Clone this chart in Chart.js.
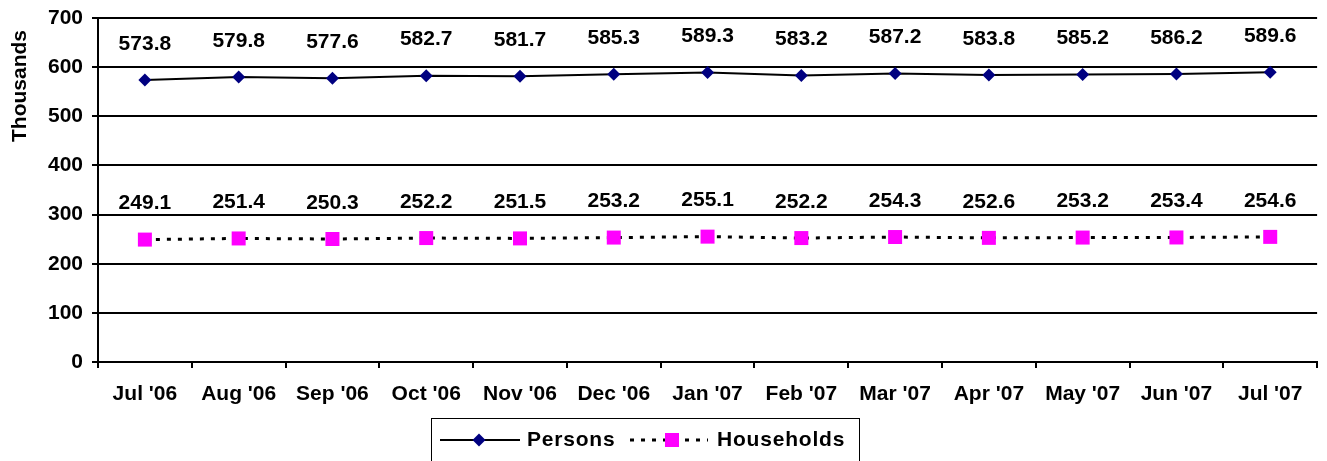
<!DOCTYPE html>
<html>
<head>
<meta charset="utf-8">
<script src="https://cdn.jsdelivr.net/npm/chart.js@4"></script>
<style>
    html, body { margin: 0; padding: 0; background: #fff; }
    #wrap { width: 1327px; height: 461px; }
</style>
</head>
<body>
<div id="wrap"><canvas id="chart-persons"></canvas></div>
<script>
/**
 * Month labels on the x axis
 * @type {string[]}
 */
const months = ["Jul '06", "Aug '06", "Sep '06", "Oct '06", "Nov '06", "Dec '06", "Jan '07",
    "Feb '07", "Mar '07", "Apr '07", "May '07", "Jun '07", "Jul '07"];

/**
 * Persons, in thousands
 * @type {number[]}
 */
const persons = [573.8, 579.8, 577.6, 582.7, 581.7, 585.3, 589.3, 583.2, 587.2, 583.8, 585.2, 586.2, 589.6];

/**
 * Households, in thousands
 * @type {number[]}
 */
const households = [249.1, 251.4, 250.3, 252.2, 251.5, 253.2, 255.1, 252.2, 254.3, 252.6, 253.2, 253.4, 254.6];

const yTicks = [0, 100, 200, 300, 400, 500, 600, 700];

const FONT = "bold 21px 'Liberation Sans', Arial, sans-serif";

Chart.defaults.color = '#000';
Chart.defaults.font.family = "'Liberation Sans', Arial, sans-serif";
Chart.defaults.font.size = 21;
Chart.defaults.font.weight = 'bold';

// value labels above each point
const valueLabels = {
    id: 'valueLabels',
    afterDatasetsDraw(chart) {
        let ctx = chart.ctx;
        ctx.save();
        ctx.font = FONT;
        ctx.fillStyle = '#000';
        ctx.textAlign = 'center';
        ctx.textBaseline = 'middle';
        chart.data.datasets.forEach(function (ds, i) {
            chart.getDatasetMeta(i).data.forEach(function (p, j) {
                ctx.fillText(ds.data[j].toFixed(1), p.x, p.y - 36);
            });
        });
        ctx.restore();
    }
};

// y title and the boxed legend under the chart
const extras = {
    id: 'extras',
    afterDraw(chart) {
        let ctx = chart.ctx;
        ctx.save();
        ctx.font = FONT;
        ctx.fillStyle = '#000';
        ctx.textBaseline = 'middle';

        ctx.save();
        ctx.translate(20, 86);
        ctx.rotate(-Math.PI / 2);
        ctx.textAlign = 'center';
        ctx.fillText('Thousands', 0, 0);
        ctx.restore();

        ctx.strokeStyle = '#000';
        ctx.lineWidth = 1;
        ctx.strokeRect(431.5, 418.5, 428, 60);

        let y = 440;
        // persons sample
        ctx.lineWidth = 2;
        ctx.beginPath();
        ctx.moveTo(440, y);
        ctx.lineTo(520, y);
        ctx.stroke();
        ctx.fillStyle = '#000080';
        ctx.beginPath();
        ctx.moveTo(479, y - 6.5);
        ctx.lineTo(485.5, y);
        ctx.lineTo(479, y + 6.5);
        ctx.lineTo(472.5, y);
        ctx.closePath();
        ctx.fill();
        ctx.fillStyle = '#000';
        ctx.textAlign = 'left';
        ctx.letterSpacing = '0.8px';
        ctx.fillText('Persons', 527, y);

        // households sample
        ctx.lineWidth = 3;
        ctx.setLineDash([4, 7]);
        ctx.beginPath();
        ctx.moveTo(630, y);
        ctx.lineTo(708, y);
        ctx.stroke();
        ctx.setLineDash([]);
        ctx.fillStyle = '#FF00FF';
        ctx.fillRect(665, y - 7, 14, 14);
        ctx.fillStyle = '#000';
        ctx.fillText('Households', 717, y);
        ctx.restore();
    }
};

let chart = new Chart(document.getElementById('chart-persons'), {
    type: 'line',
    data: {
        labels: months,
        datasets: [{
            label: 'Persons',
            data: persons,
            borderColor: '#000',
            borderWidth: 2,
            pointStyle: 'rectRot',
            pointRadius: 6.5,
            pointHoverRadius: 6.5,
            pointBackgroundColor: '#000080',
            pointBorderColor: '#000080',
            pointBorderWidth: 0,
            tension: 0
        }, {
            label: 'Households',
            data: households,
            borderColor: '#000',
            borderWidth: 3,
            borderDash: [4, 7],
            pointStyle: 'rect',
            pointRadius: 9.9,
            pointHoverRadius: 9.9,
            pointBackgroundColor: '#FF00FF',
            pointBorderColor: '#FF00FF',
            pointBorderWidth: 0,
            tension: 0
        }]
    },
    options: {
        responsive: true,
        maintainAspectRatio: false,
        animation: false,
        layout: { padding: { top: 18, right: 4, left: 0, bottom: 50 } },
        plugins: {
            legend: { display: false },
            tooltip: { enabled: false }
        },
        scales: {
            x: {
                offset: true,
                afterFit(scale) {
                    scale.height = 49;
                    scale.paddingLeft = 0;
                    scale.paddingRight = 0;
                },
                grid: {
                    offset: true,
                    drawOnChartArea: false,
                    color: '#000',
                    lineWidth: 2,
                    tickLength: 6
                },
                border: { color: '#000', width: 2 },
                ticks: { padding: 14, maxRotation: 0, autoSkip: false }
            },
            y: {
                min: 0,
                max: 700,
                afterFit(scale) {
                    scale.width = 98;
                    scale.paddingTop = 0;
                    scale.paddingBottom = 0;
                },
                afterBuildTicks(scale) { scale.ticks = yTicks.map(v => ({ value: v })); },
                grid: { color: '#000', lineWidth: 2, tickLength: 6 },
                border: { color: '#000', width: 2 },
                ticks: { padding: 9 }
            }
        }
    },
    plugins: [valueLabels, extras]
});
</script>
</body>
</html>
